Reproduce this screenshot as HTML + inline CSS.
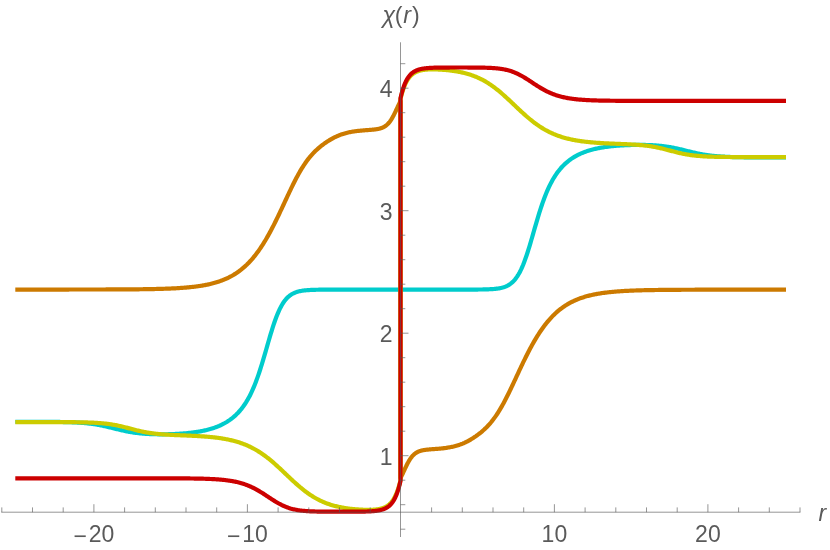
<!DOCTYPE html>
<html><head><meta charset="utf-8"><title>chi(r)</title>
<style>html,body{margin:0;padding:0;background:#fff;overflow:hidden}body{width:830px;height:550px;position:relative;font-family:"Liberation Sans",sans-serif}</style></head>
<body>
<svg width="830" height="550" viewBox="0 0 830 550" style="position:absolute;left:0;top:0;will-change:transform">
<rect width="830" height="550" fill="#ffffff"/>
<g fill="none" stroke-width="4.2" stroke-linejoin="round" stroke-linecap="butt">
<path d="M15.30,421.74 L16.19,421.74 L17.08,421.74 L17.97,421.74 L18.86,421.74 L19.75,421.74 L20.64,421.75 L21.53,421.75 L22.42,421.75 L23.31,421.75 L24.20,421.75 L25.09,421.75 L25.98,421.75 L26.87,421.75 L27.76,421.75 L28.65,421.76 L29.54,421.76 L30.43,421.76 L31.32,421.76 L32.21,421.76 L33.10,421.76 L33.99,421.77 L34.88,421.77 L35.78,421.77 L36.67,421.77 L37.56,421.78 L38.45,421.78 L39.34,421.78 L40.23,421.79 L41.12,421.79 L42.01,421.80 L42.90,421.80 L43.79,421.80 L44.68,421.81 L45.57,421.81 L46.46,421.82 L47.35,421.83 L48.24,421.83 L49.13,421.84 L50.02,421.85 L50.91,421.85 L51.80,421.86 L52.69,421.87 L53.58,421.88 L54.47,421.89 L55.36,421.90 L56.25,421.91 L57.14,421.92 L58.03,421.94 L58.92,421.95 L59.81,421.96 L60.70,421.98 L61.59,422.00 L62.48,422.01 L63.37,422.03 L64.26,422.05 L65.15,422.08 L66.04,422.10 L66.93,422.12 L67.82,422.15 L68.71,422.18 L69.60,422.21 L70.49,422.24 L71.38,422.27 L72.27,422.31 L73.16,422.34 L74.05,422.38 L74.95,422.42 L75.84,422.47 L76.73,422.52 L77.62,422.57 L78.51,422.62 L79.40,422.68 L80.29,422.74 L81.18,422.80 L82.07,422.87 L82.96,422.94 L83.85,423.01 L84.74,423.09 L85.63,423.17 L86.52,423.26 L87.41,423.35 L88.30,423.45 L89.19,423.55 L90.08,423.66 L90.97,423.77 L91.86,423.89 L92.75,424.01 L93.64,424.14 L94.53,424.27 L95.42,424.41 L96.31,424.55 L97.20,424.70 L98.09,424.86 L98.98,425.02 L99.87,425.19 L100.76,425.36 L101.65,425.54 L102.54,425.72 L103.43,425.91 L104.32,426.10 L105.21,426.30 L106.10,426.50 L106.99,426.70 L107.88,426.91 L108.77,427.12 L109.66,427.34 L110.55,427.55 L111.44,427.77 L112.33,427.99 L113.22,428.21 L114.12,428.43 L115.01,428.66 L115.90,428.88 L116.79,429.10 L117.68,429.31 L118.57,429.53 L119.46,429.74 L120.35,429.96 L121.24,430.16 L122.13,430.37 L123.02,430.57 L123.91,430.76 L124.80,430.95 L125.69,431.14 L126.58,431.32 L127.47,431.50 L128.36,431.67 L129.25,431.83 L130.14,431.99 L131.03,432.14 L131.92,432.29 L132.81,432.43 L133.70,432.56 L134.59,432.69 L135.48,432.81 L136.37,432.93 L137.26,433.04 L138.15,433.15 L139.04,433.25 L139.93,433.34 L140.82,433.43 L141.71,433.51 L142.60,433.59 L143.49,433.67 L144.38,433.74 L145.27,433.80 L146.16,433.86 L147.05,433.91 L147.94,433.97 L148.83,434.01 L149.72,434.06 L150.61,434.09 L151.50,434.13 L152.39,434.16 L153.28,434.19 L154.18,434.21 L155.07,434.24 L155.96,434.25 L156.85,434.27 L157.74,434.28 L158.63,434.29 L159.52,434.30 L160.41,434.30 L161.30,434.30 L162.19,434.30 L163.08,434.29 L163.97,434.29 L164.86,434.28 L165.75,434.26 L166.64,434.25 L167.53,434.23 L168.42,434.21 L169.31,434.19 L170.20,434.16 L171.09,434.13 L171.98,434.10 L172.87,434.07 L173.76,434.03 L174.65,433.99 L175.54,433.95 L176.43,433.91 L177.32,433.86 L178.21,433.81 L179.10,433.76 L179.99,433.70 L180.88,433.64 L181.77,433.58 L182.66,433.52 L183.55,433.45 L184.44,433.38 L185.33,433.30 L186.22,433.22 L187.11,433.14 L188.00,433.05 L188.89,432.96 L189.78,432.86 L190.67,432.76 L191.56,432.66 L192.45,432.55 L193.35,432.43 L194.24,432.31 L195.13,432.19 L196.02,432.06 L196.91,431.92 L197.80,431.78 L198.69,431.64 L199.58,431.48 L200.47,431.32 L201.36,431.15 L202.25,430.98 L203.14,430.80 L204.03,430.61 L204.92,430.41 L205.81,430.21 L206.70,429.99 L207.59,429.77 L208.48,429.53 L209.37,429.29 L210.26,429.04 L211.15,428.78 L212.04,428.50 L212.93,428.22 L213.82,427.92 L214.71,427.61 L215.60,427.29 L216.49,426.96 L217.38,426.61 L218.27,426.24 L219.16,425.87 L220.05,425.47 L220.94,425.06 L221.83,424.63 L222.72,424.19 L223.61,423.73 L224.50,423.24 L225.39,422.74 L226.28,422.22 L227.17,421.67 L228.06,421.10 L228.95,420.51 L229.84,419.89 L230.73,419.24 L231.62,418.57 L232.52,417.87 L233.41,417.14 L234.30,416.37 L235.19,415.57 L236.08,414.74 L236.97,413.87 L237.86,412.96 L238.75,412.00 L239.64,411.01 L240.53,409.97 L241.42,408.88 L242.31,407.73 L243.20,406.54 L244.09,405.28 L244.98,403.97 L245.87,402.60 L246.76,401.16 L247.65,399.65 L248.54,398.06 L249.43,396.40 L250.32,394.67 L251.21,392.85 L252.10,390.95 L252.99,388.95 L253.88,386.87 L254.77,384.70 L255.66,382.44 L256.55,380.08 L257.44,377.64 L258.33,375.10 L259.22,372.47 L260.11,369.76 L261.00,366.96 L261.89,364.10 L262.78,361.17 L263.67,358.18 L264.56,355.14 L265.45,352.07 L266.34,348.98 L267.23,345.88 L268.12,342.79 L269.01,339.72 L269.90,336.68 L270.79,333.70 L271.68,330.78 L272.58,327.94 L273.47,325.19 L274.36,322.54 L275.25,320.00 L276.14,317.58 L277.03,315.28 L277.92,313.11 L278.81,311.07 L279.70,309.16 L280.59,307.38 L281.48,305.73 L282.37,304.20 L283.26,302.79 L284.15,301.49 L285.04,300.31 L285.93,299.22 L286.82,298.24 L287.71,297.34 L288.60,296.53 L289.49,295.80 L290.38,295.14 L291.27,294.54 L292.16,294.01 L293.05,293.52 L293.94,293.09 L294.83,292.71 L295.72,292.36 L296.61,292.05 L297.50,291.78 L298.39,291.53 L299.28,291.32 L300.17,291.12 L301.06,290.95 L301.95,290.79 L302.84,290.66 L303.73,290.54 L304.62,290.43 L305.51,290.33 L306.40,290.25 L307.29,290.18 L308.18,290.11 L309.07,290.05 L309.96,290.00 L310.85,289.95 L311.75,289.91 L312.64,289.88 L313.53,289.84 L314.42,289.81 L315.31,289.79 L316.20,289.77 L317.09,289.75 L317.98,289.73 L318.87,289.72 L319.76,289.70 L320.65,289.69 L321.54,289.68 L322.43,289.67 L323.32,289.66 L324.21,289.66 L325.10,289.65 L325.99,289.64 L326.88,289.64 L327.77,289.63 L328.66,289.63 L329.55,289.63 L330.44,289.62 L331.33,289.62 L332.22,289.62 L333.11,289.62 L334.00,289.61 L334.89,289.61 L335.78,289.61 L336.67,289.61 L337.56,289.61 L338.45,289.61 L339.34,289.61 L340.23,289.61 L341.12,289.61 L342.01,289.60 L342.90,289.60 L343.79,289.60 L344.68,289.60 L345.57,289.60 L346.46,289.60 L347.35,289.60 L348.24,289.60 L349.13,289.60 L350.02,289.60 L350.92,289.60 L351.81,289.60 L352.70,289.60 L353.59,289.60 L354.48,289.60 L355.37,289.60 L356.26,289.60 L357.15,289.60 L358.04,289.60 L358.93,289.60 L359.82,289.60 L360.71,289.60 L361.60,289.60 L362.49,289.60 L363.38,289.60 L364.27,289.60 L365.16,289.60 L366.05,289.60 L366.94,289.60 L367.83,289.60 L368.72,289.60 L369.61,289.60 L370.50,289.60 L370.75,289.60 L371.00,289.60 L371.25,289.60 L371.50,289.60 L371.75,289.60 L372.00,289.60 L372.25,289.60 L372.50,289.60 L372.75,289.60 L373.00,289.60 L373.25,289.60 L373.50,289.60 L373.75,289.60 L374.00,289.60 L374.25,289.60 L374.50,289.60 L374.75,289.60 L375.00,289.60 L375.25,289.60 L375.50,289.60 L375.75,289.60 L376.00,289.60 L376.25,289.60 L376.50,289.60 L376.75,289.60 L377.00,289.60 L377.25,289.60 L377.50,289.60 L377.75,289.60 L378.00,289.60 L378.25,289.60 L378.50,289.60 L378.75,289.60 L379.00,289.60 L379.25,289.60 L379.50,289.60 L379.75,289.60 L380.00,289.60 L380.25,289.60 L380.50,289.60 L380.75,289.60 L381.00,289.60 L381.25,289.60 L381.50,289.60 L381.75,289.60 L382.00,289.60 L382.25,289.60 L382.50,289.60 L382.75,289.60 L383.00,289.60 L383.25,289.60 L383.50,289.60 L383.75,289.60 L384.00,289.60 L384.25,289.60 L384.50,289.60 L384.75,289.60 L385.00,289.60 L385.25,289.60 L385.50,289.60 L385.75,289.60 L386.00,289.60 L386.25,289.60 L386.50,289.60 L386.75,289.60 L387.00,289.60 L387.25,289.60 L387.50,289.60 L387.75,289.60 L388.00,289.60 L388.25,289.60 L388.50,289.60 L388.75,289.60 L389.00,289.60 L389.25,289.60 L389.50,289.60 L389.75,289.60 L390.00,289.60 L390.25,289.60 L390.50,289.60 L390.75,289.60 L391.00,289.60 L391.25,289.60 L391.50,289.60 L391.75,289.60 L392.00,289.60 L392.25,289.60 L392.50,289.60 L392.75,289.60 L393.00,289.60 L393.25,289.60 L393.50,289.60 L393.75,289.60 L394.00,289.60 L394.25,289.60 L394.50,289.60 L394.75,289.60 L395.00,289.60 L395.25,289.60 L395.50,289.60 L395.75,289.60 L396.00,289.60 L396.25,289.60 L396.50,289.60 L396.75,289.60 L397.00,289.60 L397.25,289.60 L397.50,289.60 L397.75,289.60 L398.00,289.60 L398.25,289.60 L398.50,289.60 L398.75,289.60 L399.00,289.60 L399.25,289.60 L399.50,289.60 L399.75,289.60 L400.00,289.60 L400.25,289.60 L400.50,289.60 L400.50,289.60 L400.75,289.60 L401.00,289.60 L401.25,289.60 L401.50,289.60 L401.75,289.60 L402.00,289.60 L402.25,289.60 L402.50,289.60 L402.75,289.60 L403.00,289.60 L403.25,289.60 L403.50,289.60 L403.75,289.60 L404.00,289.60 L404.25,289.60 L404.50,289.60 L404.75,289.60 L405.00,289.60 L405.25,289.60 L405.50,289.60 L405.75,289.60 L406.00,289.60 L406.25,289.60 L406.50,289.60 L406.75,289.60 L407.00,289.60 L407.25,289.60 L407.50,289.60 L407.75,289.60 L408.00,289.60 L408.25,289.60 L408.50,289.60 L408.75,289.60 L409.00,289.60 L409.25,289.60 L409.50,289.60 L409.75,289.60 L410.00,289.60 L410.25,289.60 L410.50,289.60 L410.75,289.60 L411.00,289.60 L411.25,289.60 L411.50,289.60 L411.75,289.60 L412.00,289.60 L412.25,289.60 L412.50,289.60 L412.75,289.60 L413.00,289.60 L413.25,289.60 L413.50,289.60 L413.75,289.60 L414.00,289.60 L414.25,289.60 L414.50,289.60 L414.75,289.60 L415.00,289.60 L415.25,289.60 L415.50,289.60 L415.75,289.60 L416.00,289.60 L416.25,289.60 L416.50,289.60 L416.75,289.60 L417.00,289.60 L417.25,289.60 L417.50,289.60 L417.75,289.60 L418.00,289.60 L418.25,289.60 L418.50,289.60 L418.75,289.60 L419.00,289.60 L419.25,289.60 L419.50,289.60 L419.75,289.60 L420.00,289.60 L420.25,289.60 L420.50,289.60 L420.75,289.60 L421.00,289.60 L421.25,289.60 L421.50,289.60 L421.75,289.60 L422.00,289.60 L422.25,289.60 L422.50,289.60 L422.75,289.60 L423.00,289.60 L423.25,289.60 L423.50,289.60 L423.75,289.60 L424.00,289.60 L424.25,289.60 L424.50,289.60 L424.75,289.60 L425.00,289.60 L425.25,289.60 L425.50,289.60 L425.75,289.60 L426.00,289.60 L426.25,289.60 L426.50,289.60 L426.75,289.60 L427.00,289.60 L427.25,289.60 L427.50,289.60 L427.75,289.60 L428.00,289.60 L428.25,289.60 L428.50,289.60 L428.75,289.60 L429.00,289.60 L429.25,289.60 L429.50,289.60 L429.75,289.60 L430.00,289.60 L430.25,289.60 L430.50,289.60 L431.39,289.60 L432.28,289.60 L433.17,289.60 L434.06,289.60 L434.95,289.60 L435.85,289.60 L436.74,289.60 L437.63,289.60 L438.52,289.60 L439.41,289.60 L440.30,289.60 L441.19,289.60 L442.08,289.60 L442.97,289.60 L443.86,289.60 L444.76,289.60 L445.65,289.60 L446.54,289.60 L447.43,289.60 L448.32,289.60 L449.21,289.60 L450.10,289.60 L450.99,289.60 L451.88,289.60 L452.77,289.60 L453.67,289.60 L454.56,289.60 L455.45,289.60 L456.34,289.60 L457.23,289.60 L458.12,289.60 L459.01,289.60 L459.90,289.59 L460.79,289.59 L461.68,289.59 L462.58,289.59 L463.47,289.59 L464.36,289.59 L465.25,289.59 L466.14,289.59 L467.03,289.58 L467.92,289.58 L468.81,289.58 L469.70,289.58 L470.59,289.58 L471.48,289.57 L472.38,289.57 L473.27,289.56 L474.16,289.56 L475.05,289.55 L475.94,289.55 L476.83,289.54 L477.72,289.53 L478.61,289.52 L479.50,289.51 L480.39,289.50 L481.29,289.49 L482.18,289.48 L483.07,289.46 L483.96,289.44 L484.85,289.42 L485.74,289.40 L486.63,289.37 L487.52,289.34 L488.41,289.30 L489.30,289.26 L490.20,289.22 L491.09,289.17 L491.98,289.11 L492.87,289.05 L493.76,288.98 L494.65,288.90 L495.54,288.81 L496.43,288.70 L497.32,288.59 L498.21,288.46 L499.11,288.31 L500.00,288.15 L500.89,287.96 L501.78,287.75 L502.67,287.51 L503.56,287.25 L504.45,286.96 L505.34,286.62 L506.23,286.25 L507.12,285.84 L508.02,285.38 L508.91,284.86 L509.80,284.29 L510.69,283.65 L511.58,282.94 L512.47,282.16 L513.36,281.29 L514.25,280.34 L515.14,279.29 L516.03,278.14 L516.92,276.89 L517.82,275.52 L518.71,274.03 L519.60,272.42 L520.49,270.68 L521.38,268.82 L522.27,266.82 L523.16,264.70 L524.05,262.44 L524.94,260.06 L525.83,257.56 L526.73,254.95 L527.62,252.23 L528.51,249.41 L529.40,246.52 L530.29,243.55 L531.18,240.53 L532.07,237.47 L532.96,234.38 L533.85,231.27 L534.74,228.18 L535.64,225.09 L536.53,222.04 L537.42,219.04 L538.31,216.08 L539.20,213.19 L540.09,210.37 L540.98,207.63 L541.87,204.97 L542.76,202.40 L543.65,199.92 L544.55,197.53 L545.44,195.23 L546.33,193.03 L547.22,190.92 L548.11,188.90 L549.00,186.96 L549.89,185.11 L550.78,183.35 L551.67,181.66 L552.56,180.06 L553.45,178.52 L554.35,177.06 L555.24,175.66 L556.13,174.33 L557.02,173.06 L557.91,171.84 L558.80,170.68 L559.69,169.57 L560.58,168.51 L561.47,167.50 L562.36,166.54 L563.26,165.61 L564.15,164.73 L565.04,163.88 L565.93,163.07 L566.82,162.30 L567.71,161.55 L568.60,160.84 L569.49,160.16 L570.38,159.50 L571.27,158.88 L572.17,158.28 L573.06,157.70 L573.95,157.15 L574.84,156.61 L575.73,156.11 L576.62,155.62 L577.51,155.15 L578.40,154.70 L579.29,154.26 L580.18,153.85 L581.08,153.45 L581.97,153.07 L582.86,152.70 L583.75,152.34 L584.64,152.00 L585.53,151.68 L586.42,151.37 L587.31,151.07 L588.20,150.78 L589.09,150.50 L589.98,150.23 L590.88,149.98 L591.77,149.73 L592.66,149.50 L593.55,149.27 L594.44,149.05 L595.33,148.85 L596.22,148.65 L597.11,148.45 L598.00,148.27 L598.89,148.09 L599.79,147.92 L600.68,147.76 L601.57,147.61 L602.46,147.46 L603.35,147.31 L604.24,147.18 L605.13,147.04 L606.02,146.92 L606.91,146.80 L607.80,146.68 L608.70,146.57 L609.59,146.47 L610.48,146.36 L611.37,146.27 L612.26,146.17 L613.15,146.09 L614.04,146.00 L614.93,145.92 L615.82,145.84 L616.71,145.77 L617.61,145.70 L618.50,145.63 L619.39,145.57 L620.28,145.51 L621.17,145.45 L622.06,145.40 L622.95,145.35 L623.84,145.30 L624.73,145.26 L625.62,145.22 L626.52,145.18 L627.41,145.14 L628.30,145.11 L629.19,145.07 L630.08,145.05 L630.97,145.02 L631.86,145.00 L632.75,144.97 L633.64,144.96 L634.53,144.94 L635.42,144.93 L636.32,144.92 L637.21,144.91 L638.10,144.90 L638.99,144.90 L639.88,144.90 L640.77,144.90 L641.66,144.91 L642.55,144.92 L643.44,144.93 L644.33,144.94 L645.23,144.96 L646.12,144.98 L647.01,145.00 L647.90,145.03 L648.79,145.06 L649.68,145.10 L650.57,145.14 L651.46,145.18 L652.35,145.22 L653.24,145.27 L654.14,145.33 L655.03,145.39 L655.92,145.45 L656.81,145.52 L657.70,145.59 L658.59,145.67 L659.48,145.75 L660.37,145.84 L661.26,145.93 L662.15,146.03 L663.05,146.13 L663.94,146.24 L664.83,146.36 L665.72,146.48 L666.61,146.61 L667.50,146.74 L668.39,146.88 L669.28,147.03 L670.17,147.18 L671.06,147.34 L671.95,147.50 L672.85,147.67 L673.74,147.84 L674.63,148.02 L675.52,148.21 L676.41,148.40 L677.30,148.59 L678.19,148.79 L679.08,149.00 L679.97,149.20 L680.86,149.41 L681.76,149.63 L682.65,149.84 L683.54,150.06 L684.43,150.28 L685.32,150.50 L686.21,150.72 L687.10,150.94 L687.99,151.17 L688.88,151.39 L689.77,151.60 L690.67,151.82 L691.56,152.04 L692.45,152.25 L693.34,152.46 L694.23,152.66 L695.12,152.87 L696.01,153.06 L696.90,153.26 L697.79,153.45 L698.68,153.63 L699.58,153.81 L700.47,153.98 L701.36,154.15 L702.25,154.31 L703.14,154.47 L704.03,154.62 L704.92,154.77 L705.81,154.91 L706.70,155.04 L707.59,155.17 L708.48,155.29 L709.38,155.41 L710.27,155.52 L711.16,155.63 L712.05,155.73 L712.94,155.83 L713.83,155.92 L714.72,156.01 L715.61,156.10 L716.50,156.18 L717.39,156.25 L718.29,156.32 L719.18,156.39 L720.07,156.45 L720.96,156.51 L721.85,156.57 L722.74,156.62 L723.63,156.68 L724.52,156.72 L725.41,156.77 L726.30,156.81 L727.20,156.85 L728.09,156.89 L728.98,156.92 L729.87,156.96 L730.76,156.99 L731.65,157.02 L732.54,157.05 L733.43,157.07 L734.32,157.10 L735.21,157.12 L736.11,157.14 L737.00,157.16 L737.89,157.18 L738.78,157.20 L739.67,157.22 L740.56,157.23 L741.45,157.25 L742.34,157.26 L743.23,157.27 L744.12,157.29 L745.02,157.30 L745.91,157.31 L746.80,157.32 L747.69,157.33 L748.58,157.34 L749.47,157.35 L750.36,157.35 L751.25,157.36 L752.14,157.37 L753.03,157.37 L753.92,157.38 L754.82,157.39 L755.71,157.39 L756.60,157.40 L757.49,157.40 L758.38,157.40 L759.27,157.41 L760.16,157.41 L761.05,157.42 L761.94,157.42 L762.83,157.42 L763.73,157.43 L764.62,157.43 L765.51,157.43 L766.40,157.43 L767.29,157.43 L768.18,157.44 L769.07,157.44 L769.96,157.44 L770.85,157.44 L771.74,157.44 L772.64,157.45 L773.53,157.45 L774.42,157.45 L775.31,157.45 L776.20,157.45 L777.09,157.45 L777.98,157.45 L778.87,157.45 L779.76,157.45 L780.65,157.46 L781.55,157.46 L782.44,157.46 L783.33,157.46 L784.22,157.46 L785.11,157.46 L786.00,157.46" stroke="#00cccc"/>
<path d="M15.30,289.54 L16.19,289.54 L17.08,289.54 L17.97,289.54 L18.86,289.54 L19.75,289.54 L20.64,289.54 L21.53,289.54 L22.42,289.54 L23.31,289.54 L24.20,289.54 L25.09,289.54 L25.98,289.54 L26.87,289.54 L27.76,289.54 L28.65,289.54 L29.54,289.54 L30.43,289.54 L31.32,289.54 L32.21,289.54 L33.10,289.54 L33.99,289.54 L34.88,289.53 L35.78,289.53 L36.67,289.53 L37.56,289.53 L38.45,289.53 L39.34,289.53 L40.23,289.53 L41.12,289.53 L42.01,289.53 L42.90,289.53 L43.79,289.53 L44.68,289.53 L45.57,289.53 L46.46,289.53 L47.35,289.53 L48.24,289.53 L49.13,289.53 L50.02,289.53 L50.91,289.53 L51.80,289.53 L52.69,289.53 L53.58,289.53 L54.47,289.53 L55.36,289.53 L56.25,289.53 L57.14,289.53 L58.03,289.53 L58.92,289.53 L59.81,289.53 L60.70,289.53 L61.59,289.53 L62.48,289.53 L63.37,289.53 L64.26,289.53 L65.15,289.53 L66.04,289.53 L66.93,289.53 L67.82,289.53 L68.71,289.53 L69.60,289.52 L70.49,289.52 L71.38,289.52 L72.27,289.52 L73.16,289.52 L74.05,289.52 L74.95,289.52 L75.84,289.52 L76.73,289.52 L77.62,289.52 L78.51,289.52 L79.40,289.52 L80.29,289.52 L81.18,289.52 L82.07,289.52 L82.96,289.51 L83.85,289.51 L84.74,289.51 L85.63,289.51 L86.52,289.51 L87.41,289.51 L88.30,289.51 L89.19,289.51 L90.08,289.51 L90.97,289.50 L91.86,289.50 L92.75,289.50 L93.64,289.50 L94.53,289.50 L95.42,289.50 L96.31,289.50 L97.20,289.49 L98.09,289.49 L98.98,289.49 L99.87,289.49 L100.76,289.49 L101.65,289.49 L102.54,289.48 L103.43,289.48 L104.32,289.48 L105.21,289.48 L106.10,289.47 L106.99,289.47 L107.88,289.47 L108.77,289.47 L109.66,289.46 L110.55,289.46 L111.44,289.46 L112.33,289.46 L113.22,289.45 L114.12,289.45 L115.01,289.45 L115.90,289.44 L116.79,289.44 L117.68,289.43 L118.57,289.43 L119.46,289.43 L120.35,289.42 L121.24,289.42 L122.13,289.41 L123.02,289.41 L123.91,289.40 L124.80,289.40 L125.69,289.39 L126.58,289.38 L127.47,289.38 L128.36,289.37 L129.25,289.37 L130.14,289.36 L131.03,289.35 L131.92,289.35 L132.81,289.34 L133.70,289.33 L134.59,289.32 L135.48,289.31 L136.37,289.30 L137.26,289.30 L138.15,289.29 L139.04,289.28 L139.93,289.27 L140.82,289.25 L141.71,289.24 L142.60,289.23 L143.49,289.22 L144.38,289.21 L145.27,289.20 L146.16,289.18 L147.05,289.17 L147.94,289.15 L148.83,289.14 L149.72,289.12 L150.61,289.11 L151.50,289.09 L152.39,289.07 L153.28,289.05 L154.18,289.03 L155.07,289.01 L155.96,288.99 L156.85,288.97 L157.74,288.95 L158.63,288.93 L159.52,288.90 L160.41,288.88 L161.30,288.85 L162.19,288.83 L163.08,288.80 L163.97,288.77 L164.86,288.74 L165.75,288.71 L166.64,288.68 L167.53,288.64 L168.42,288.61 L169.31,288.57 L170.20,288.53 L171.09,288.50 L171.98,288.45 L172.87,288.41 L173.76,288.37 L174.65,288.32 L175.54,288.28 L176.43,288.23 L177.32,288.17 L178.21,288.12 L179.10,288.07 L179.99,288.01 L180.88,287.95 L181.77,287.89 L182.66,287.82 L183.55,287.76 L184.44,287.69 L185.33,287.62 L186.22,287.54 L187.11,287.46 L188.00,287.38 L188.89,287.30 L189.78,287.21 L190.67,287.12 L191.56,287.03 L192.45,286.93 L193.35,286.83 L194.24,286.72 L195.13,286.61 L196.02,286.50 L196.91,286.38 L197.80,286.26 L198.69,286.13 L199.58,286.00 L200.47,285.87 L201.36,285.72 L202.25,285.58 L203.14,285.42 L204.03,285.27 L204.92,285.10 L205.81,284.93 L206.70,284.75 L207.59,284.57 L208.48,284.38 L209.37,284.18 L210.26,283.97 L211.15,283.76 L212.04,283.54 L212.93,283.31 L213.82,283.07 L214.71,282.83 L215.60,282.57 L216.49,282.30 L217.38,282.03 L218.27,281.74 L219.16,281.45 L220.05,281.14 L220.94,280.82 L221.83,280.49 L222.72,280.15 L223.61,279.80 L224.50,279.43 L225.39,279.05 L226.28,278.65 L227.17,278.25 L228.06,277.82 L228.95,277.39 L229.84,276.93 L230.73,276.47 L231.62,275.98 L232.52,275.48 L233.41,274.96 L234.30,274.42 L235.19,273.86 L236.08,273.29 L236.97,272.69 L237.86,272.08 L238.75,271.44 L239.64,270.79 L240.53,270.11 L241.42,269.41 L242.31,268.69 L243.20,267.94 L244.09,267.17 L244.98,266.37 L245.87,265.55 L246.76,264.71 L247.65,263.83 L248.54,262.93 L249.43,262.01 L250.32,261.05 L251.21,260.07 L252.10,259.06 L252.99,258.02 L253.88,256.95 L254.77,255.85 L255.66,254.72 L256.55,253.56 L257.44,252.36 L258.33,251.14 L259.22,249.89 L260.11,248.60 L261.00,247.28 L261.89,245.93 L262.78,244.55 L263.67,243.14 L264.56,241.69 L265.45,240.21 L266.34,238.70 L267.23,237.17 L268.12,235.60 L269.01,234.00 L269.90,232.37 L270.79,230.71 L271.68,229.03 L272.58,227.32 L273.47,225.59 L274.36,223.83 L275.25,222.04 L276.14,220.24 L277.03,218.42 L277.92,216.58 L278.81,214.72 L279.70,212.84 L280.59,210.96 L281.48,209.06 L282.37,207.16 L283.26,205.25 L284.15,203.33 L285.04,201.42 L285.93,199.50 L286.82,197.59 L287.71,195.69 L288.60,193.79 L289.49,191.91 L290.38,190.04 L291.27,188.19 L292.16,186.36 L293.05,184.55 L293.94,182.77 L294.83,181.01 L295.72,179.28 L296.61,177.59 L297.50,175.93 L298.39,174.30 L299.28,172.72 L300.17,171.17 L301.06,169.66 L301.95,168.19 L302.84,166.77 L303.73,165.39 L304.62,164.05 L305.51,162.75 L306.40,161.49 L307.29,160.28 L308.18,159.11 L309.07,157.98 L309.96,156.89 L310.85,155.84 L311.75,154.83 L312.64,153.85 L313.53,152.90 L314.42,151.99 L315.31,151.11 L316.20,150.26 L317.09,149.43 L317.98,148.63 L318.87,147.86 L319.76,147.11 L320.65,146.38 L321.54,145.67 L322.43,144.99 L323.32,144.32 L324.21,143.67 L325.10,143.04 L325.99,142.42 L326.88,141.82 L327.77,141.24 L328.66,140.68 L329.55,140.13 L330.44,139.60 L331.33,139.09 L332.22,138.59 L333.11,138.11 L334.00,137.65 L334.89,137.21 L335.78,136.78 L336.67,136.37 L337.56,135.98 L338.45,135.60 L339.34,135.24 L340.23,134.90 L341.12,134.58 L342.01,134.27 L342.90,133.97 L343.79,133.70 L344.68,133.43 L345.57,133.18 L346.46,132.95 L347.35,132.73 L348.24,132.52 L349.13,132.32 L350.02,132.14 L350.92,131.96 L351.81,131.80 L352.70,131.65 L353.59,131.50 L354.48,131.37 L355.37,131.24 L356.26,131.12 L357.15,131.01 L358.04,130.91 L358.93,130.81 L359.82,130.72 L360.71,130.63 L361.60,130.55 L362.49,130.47 L363.38,130.40 L364.27,130.33 L365.16,130.26 L366.05,130.19 L366.94,130.12 L367.83,130.06 L368.72,129.99 L369.61,129.93 L370.50,129.86 L370.75,129.84 L371.00,129.82 L371.25,129.80 L371.50,129.78 L371.75,129.75 L372.00,129.73 L372.25,129.71 L372.50,129.69 L372.75,129.66 L373.00,129.64 L373.25,129.61 L373.50,129.59 L373.75,129.56 L374.00,129.54 L374.25,129.51 L374.50,129.48 L374.75,129.45 L375.00,129.42 L375.25,129.39 L375.50,129.36 L375.75,129.32 L376.00,129.29 L376.25,129.25 L376.50,129.21 L376.75,129.17 L377.00,129.13 L377.25,129.09 L377.50,129.05 L377.75,129.00 L378.00,128.95 L378.25,128.90 L378.50,128.85 L378.75,128.80 L379.00,128.74 L379.25,128.68 L379.50,128.62 L379.75,128.55 L380.00,128.49 L380.25,128.42 L380.50,128.34 L380.75,128.27 L381.00,128.19 L381.25,128.10 L381.50,128.02 L381.75,127.93 L382.00,127.83 L382.25,127.73 L382.50,127.63 L382.75,127.52 L383.00,127.41 L383.25,127.29 L383.50,127.16 L383.75,127.04 L384.00,126.90 L384.25,126.76 L384.50,126.61 L384.75,126.46 L385.00,126.30 L385.25,126.14 L385.50,125.96 L385.75,125.78 L386.00,125.60 L386.25,125.40 L386.50,125.20 L386.75,124.99 L387.00,124.77 L387.25,124.54 L387.50,124.30 L387.75,124.06 L388.00,123.80 L388.25,123.54 L388.50,123.26 L388.75,122.98 L389.00,122.68 L389.25,122.38 L389.50,122.07 L389.75,121.74 L390.00,121.41 L390.25,121.06 L390.50,120.70 L390.75,120.34 L391.00,119.96 L391.25,119.57 L391.50,119.18 L391.75,118.77 L392.00,118.35 L392.25,117.92 L392.50,117.48 L392.75,117.03 L393.00,116.58 L393.25,116.11 L393.50,115.64 L393.75,115.15 L394.00,114.66 L394.25,114.16 L394.50,113.66 L394.75,113.15 L395.00,112.63 L395.25,112.11 L395.50,111.58 L395.75,111.05 L396.00,110.52 L396.25,109.98 L396.50,109.44 L396.75,108.90 L397.00,108.36 L397.25,107.82 L397.50,107.28 L397.75,106.74 L398.00,106.20 L398.25,105.67 L398.50,105.14 L398.75,104.61 L399.00,104.09 L399.25,103.57 L399.50,103.06 L399.75,102.56 L400.00,102.06 L400.25,101.57 L400.50,101.09 L400.50,478.11 L400.75,477.63 L401.00,477.14 L401.25,476.64 L401.50,476.14 L401.75,475.63 L402.00,475.11 L402.25,474.59 L402.50,474.06 L402.75,473.53 L403.00,473.00 L403.25,472.46 L403.50,471.92 L403.75,471.38 L404.00,470.84 L404.25,470.30 L404.50,469.76 L404.75,469.22 L405.00,468.68 L405.25,468.15 L405.50,467.62 L405.75,467.09 L406.00,466.57 L406.25,466.05 L406.50,465.54 L406.75,465.04 L407.00,464.54 L407.25,464.05 L407.50,463.56 L407.75,463.09 L408.00,462.62 L408.25,462.17 L408.50,461.72 L408.75,461.28 L409.00,460.85 L409.25,460.43 L409.50,460.02 L409.75,459.63 L410.00,459.24 L410.25,458.86 L410.50,458.50 L410.75,458.14 L411.00,457.79 L411.25,457.46 L411.50,457.13 L411.75,456.82 L412.00,456.52 L412.25,456.22 L412.50,455.94 L412.75,455.66 L413.00,455.40 L413.25,455.14 L413.50,454.90 L413.75,454.66 L414.00,454.43 L414.25,454.21 L414.50,454.00 L414.75,453.80 L415.00,453.60 L415.25,453.42 L415.50,453.24 L415.75,453.06 L416.00,452.90 L416.25,452.74 L416.50,452.59 L416.75,452.44 L417.00,452.30 L417.25,452.16 L417.50,452.04 L417.75,451.91 L418.00,451.79 L418.25,451.68 L418.50,451.57 L418.75,451.47 L419.00,451.37 L419.25,451.27 L419.50,451.18 L419.75,451.10 L420.00,451.01 L420.25,450.93 L420.50,450.86 L420.75,450.78 L421.00,450.71 L421.25,450.65 L421.50,450.58 L421.75,450.52 L422.00,450.46 L422.25,450.40 L422.50,450.35 L422.75,450.30 L423.00,450.25 L423.25,450.20 L423.50,450.15 L423.75,450.11 L424.00,450.07 L424.25,450.03 L424.50,449.99 L424.75,449.95 L425.00,449.91 L425.25,449.88 L425.50,449.84 L425.75,449.81 L426.00,449.78 L426.25,449.75 L426.50,449.72 L426.75,449.69 L427.00,449.66 L427.25,449.64 L427.50,449.61 L427.75,449.59 L428.00,449.56 L428.25,449.54 L428.50,449.51 L428.75,449.49 L429.00,449.47 L429.25,449.45 L429.50,449.42 L429.75,449.40 L430.00,449.38 L430.25,449.36 L430.50,449.34 L431.39,449.27 L432.28,449.21 L433.17,449.14 L434.06,449.08 L434.95,449.01 L435.85,448.94 L436.74,448.87 L437.63,448.80 L438.52,448.73 L439.41,448.65 L440.30,448.57 L441.19,448.48 L442.08,448.39 L442.97,448.29 L443.86,448.19 L444.76,448.07 L445.65,447.96 L446.54,447.83 L447.43,447.69 L448.32,447.55 L449.21,447.40 L450.10,447.23 L450.99,447.06 L451.88,446.87 L452.77,446.68 L453.67,446.47 L454.56,446.25 L455.45,446.01 L456.34,445.76 L457.23,445.50 L458.12,445.22 L459.01,444.92 L459.90,444.61 L460.79,444.29 L461.68,443.94 L462.58,443.59 L463.47,443.21 L464.36,442.82 L465.25,442.40 L466.14,441.98 L467.03,441.53 L467.92,441.07 L468.81,440.59 L469.70,440.09 L470.59,439.58 L471.48,439.05 L472.38,438.50 L473.27,437.93 L474.16,437.35 L475.05,436.75 L475.94,436.14 L476.83,435.50 L477.72,434.85 L478.61,434.18 L479.50,433.49 L480.39,432.79 L481.29,432.06 L482.18,431.30 L483.07,430.53 L483.96,429.73 L484.85,428.90 L485.74,428.05 L486.63,427.16 L487.52,426.25 L488.41,425.30 L489.30,424.32 L490.20,423.30 L491.09,422.25 L491.98,421.15 L492.87,420.02 L493.76,418.85 L494.65,417.63 L495.54,416.37 L496.43,415.07 L497.32,413.73 L498.21,412.34 L499.11,410.91 L500.00,409.44 L500.89,407.93 L501.78,406.38 L502.67,404.79 L503.56,403.16 L504.45,401.49 L505.34,399.79 L506.23,398.06 L507.12,396.30 L508.02,394.52 L508.91,392.71 L509.80,390.87 L510.69,389.02 L511.58,387.15 L512.47,385.26 L513.36,383.36 L514.25,381.46 L515.14,379.55 L516.03,377.63 L516.92,375.71 L517.82,373.80 L518.71,371.88 L519.60,369.98 L520.49,368.08 L521.38,366.19 L522.27,364.32 L523.16,362.46 L524.05,360.62 L524.94,358.80 L525.83,356.99 L526.73,355.21 L527.62,353.45 L528.51,351.72 L529.40,350.01 L530.29,348.33 L531.18,346.67 L532.07,345.05 L532.96,343.45 L533.85,341.88 L534.74,340.34 L535.64,338.84 L536.53,337.36 L537.42,335.92 L538.31,334.51 L539.20,333.13 L540.09,331.78 L540.98,330.46 L541.87,329.18 L542.76,327.93 L543.65,326.71 L544.55,325.52 L545.44,324.36 L546.33,323.23 L547.22,322.13 L548.11,321.06 L549.00,320.03 L549.89,319.02 L550.78,318.04 L551.67,317.08 L552.56,316.16 L553.45,315.26 L554.35,314.39 L555.24,313.55 L556.13,312.73 L557.02,311.94 L557.91,311.17 L558.80,310.42 L559.69,309.70 L560.58,309.01 L561.47,308.33 L562.36,307.67 L563.26,307.04 L564.15,306.43 L565.04,305.84 L565.93,305.26 L566.82,304.71 L567.71,304.17 L568.60,303.66 L569.49,303.15 L570.38,302.67 L571.27,302.20 L572.17,301.75 L573.06,301.32 L573.95,300.90 L574.84,300.49 L575.73,300.10 L576.62,299.72 L577.51,299.35 L578.40,299.00 L579.29,298.66 L580.18,298.33 L581.08,298.02 L581.97,297.71 L582.86,297.42 L583.75,297.13 L584.64,296.86 L585.53,296.59 L586.42,296.34 L587.31,296.09 L588.20,295.86 L589.09,295.63 L589.98,295.41 L590.88,295.19 L591.77,294.99 L592.66,294.79 L593.55,294.60 L594.44,294.42 L595.33,294.24 L596.22,294.07 L597.11,293.91 L598.00,293.75 L598.89,293.60 L599.79,293.45 L600.68,293.31 L601.57,293.18 L602.46,293.04 L603.35,292.92 L604.24,292.80 L605.13,292.68 L606.02,292.57 L606.91,292.46 L607.80,292.35 L608.70,292.25 L609.59,292.16 L610.48,292.06 L611.37,291.97 L612.26,291.89 L613.15,291.80 L614.04,291.72 L614.93,291.65 L615.82,291.57 L616.71,291.50 L617.61,291.43 L618.50,291.37 L619.39,291.30 L620.28,291.24 L621.17,291.18 L622.06,291.12 L622.95,291.07 L623.84,291.02 L624.73,290.96 L625.62,290.92 L626.52,290.87 L627.41,290.82 L628.30,290.78 L629.19,290.74 L630.08,290.70 L630.97,290.66 L631.86,290.62 L632.75,290.58 L633.64,290.55 L634.53,290.52 L635.42,290.48 L636.32,290.45 L637.21,290.42 L638.10,290.40 L638.99,290.37 L639.88,290.34 L640.77,290.32 L641.66,290.29 L642.55,290.27 L643.44,290.24 L644.33,290.22 L645.23,290.20 L646.12,290.18 L647.01,290.16 L647.90,290.14 L648.79,290.12 L649.68,290.11 L650.57,290.09 L651.46,290.07 L652.35,290.06 L653.24,290.04 L654.14,290.03 L655.03,290.02 L655.92,290.00 L656.81,289.99 L657.70,289.98 L658.59,289.97 L659.48,289.95 L660.37,289.94 L661.26,289.93 L662.15,289.92 L663.05,289.91 L663.94,289.90 L664.83,289.89 L665.72,289.88 L666.61,289.88 L667.50,289.87 L668.39,289.86 L669.28,289.85 L670.17,289.85 L671.06,289.84 L671.95,289.83 L672.85,289.83 L673.74,289.82 L674.63,289.81 L675.52,289.81 L676.41,289.80 L677.30,289.80 L678.19,289.79 L679.08,289.79 L679.97,289.78 L680.86,289.78 L681.76,289.77 L682.65,289.77 L683.54,289.77 L684.43,289.76 L685.32,289.76 L686.21,289.75 L687.10,289.75 L687.99,289.75 L688.88,289.74 L689.77,289.74 L690.67,289.74 L691.56,289.74 L692.45,289.73 L693.34,289.73 L694.23,289.73 L695.12,289.72 L696.01,289.72 L696.90,289.72 L697.79,289.72 L698.68,289.72 L699.58,289.71 L700.47,289.71 L701.36,289.71 L702.25,289.71 L703.14,289.71 L704.03,289.70 L704.92,289.70 L705.81,289.70 L706.70,289.70 L707.59,289.70 L708.48,289.70 L709.38,289.70 L710.27,289.69 L711.16,289.69 L712.05,289.69 L712.94,289.69 L713.83,289.69 L714.72,289.69 L715.61,289.69 L716.50,289.69 L717.39,289.69 L718.29,289.69 L719.18,289.68 L720.07,289.68 L720.96,289.68 L721.85,289.68 L722.74,289.68 L723.63,289.68 L724.52,289.68 L725.41,289.68 L726.30,289.68 L727.20,289.68 L728.09,289.68 L728.98,289.68 L729.87,289.68 L730.76,289.68 L731.65,289.68 L732.54,289.67 L733.43,289.67 L734.32,289.67 L735.21,289.67 L736.11,289.67 L737.00,289.67 L737.89,289.67 L738.78,289.67 L739.67,289.67 L740.56,289.67 L741.45,289.67 L742.34,289.67 L743.23,289.67 L744.12,289.67 L745.02,289.67 L745.91,289.67 L746.80,289.67 L747.69,289.67 L748.58,289.67 L749.47,289.67 L750.36,289.67 L751.25,289.67 L752.14,289.67 L753.03,289.67 L753.92,289.67 L754.82,289.67 L755.71,289.67 L756.60,289.67 L757.49,289.67 L758.38,289.67 L759.27,289.67 L760.16,289.67 L761.05,289.67 L761.94,289.67 L762.83,289.67 L763.73,289.67 L764.62,289.67 L765.51,289.67 L766.40,289.67 L767.29,289.66 L768.18,289.66 L769.07,289.66 L769.96,289.66 L770.85,289.66 L771.74,289.66 L772.64,289.66 L773.53,289.66 L774.42,289.66 L775.31,289.66 L776.20,289.66 L777.09,289.66 L777.98,289.66 L778.87,289.66 L779.76,289.66 L780.65,289.66 L781.55,289.66 L782.44,289.66 L783.33,289.66 L784.22,289.66 L785.11,289.66 L786.00,289.66" stroke="#cc7a00"/>
<path d="M15.30,422.08 L16.19,422.08 L17.08,422.08 L17.97,422.08 L18.86,422.08 L19.75,422.08 L20.64,422.08 L21.53,422.08 L22.42,422.08 L23.31,422.08 L24.20,422.08 L25.09,422.08 L25.98,422.08 L26.87,422.08 L27.76,422.08 L28.65,422.08 L29.54,422.08 L30.43,422.08 L31.32,422.08 L32.21,422.08 L33.10,422.08 L33.99,422.08 L34.88,422.08 L35.78,422.08 L36.67,422.08 L37.56,422.08 L38.45,422.08 L39.34,422.09 L40.23,422.09 L41.12,422.09 L42.01,422.09 L42.90,422.09 L43.79,422.09 L44.68,422.09 L45.57,422.09 L46.46,422.09 L47.35,422.09 L48.24,422.09 L49.13,422.10 L50.02,422.10 L50.91,422.10 L51.80,422.10 L52.69,422.10 L53.58,422.10 L54.47,422.11 L55.36,422.11 L56.25,422.11 L57.14,422.11 L58.03,422.11 L58.92,422.12 L59.81,422.12 L60.70,422.12 L61.59,422.13 L62.48,422.13 L63.37,422.13 L64.26,422.14 L65.15,422.14 L66.04,422.15 L66.93,422.15 L67.82,422.16 L68.71,422.17 L69.60,422.17 L70.49,422.18 L71.38,422.19 L72.27,422.20 L73.16,422.20 L74.05,422.21 L74.95,422.22 L75.84,422.23 L76.73,422.25 L77.62,422.26 L78.51,422.27 L79.40,422.29 L80.29,422.30 L81.18,422.32 L82.07,422.34 L82.96,422.35 L83.85,422.38 L84.74,422.40 L85.63,422.42 L86.52,422.45 L87.41,422.47 L88.30,422.50 L89.19,422.53 L90.08,422.56 L90.97,422.60 L91.86,422.64 L92.75,422.68 L93.64,422.72 L94.53,422.76 L95.42,422.81 L96.31,422.86 L97.20,422.92 L98.09,422.98 L98.98,423.04 L99.87,423.11 L100.76,423.18 L101.65,423.25 L102.54,423.33 L103.43,423.41 L104.32,423.50 L105.21,423.60 L106.10,423.70 L106.99,423.80 L107.88,423.91 L108.77,424.03 L109.66,424.15 L110.55,424.28 L111.44,424.42 L112.33,424.56 L113.22,424.71 L114.12,424.86 L115.01,425.03 L115.90,425.19 L116.79,425.37 L117.68,425.55 L118.57,425.74 L119.46,425.93 L120.35,426.13 L121.24,426.33 L122.13,426.54 L123.02,426.76 L123.91,426.97 L124.80,427.20 L125.69,427.42 L126.58,427.65 L127.47,427.88 L128.36,428.12 L129.25,428.35 L130.14,428.59 L131.03,428.82 L131.92,429.06 L132.81,429.29 L133.70,429.52 L134.59,429.75 L135.48,429.98 L136.37,430.21 L137.26,430.42 L138.15,430.64 L139.04,430.85 L139.93,431.06 L140.82,431.26 L141.71,431.45 L142.60,431.64 L143.49,431.82 L144.38,432.00 L145.27,432.17 L146.16,432.33 L147.05,432.49 L147.94,432.64 L148.83,432.79 L149.72,432.93 L150.61,433.06 L151.50,433.19 L152.39,433.31 L153.28,433.42 L154.18,433.53 L155.07,433.64 L155.96,433.74 L156.85,433.83 L157.74,433.92 L158.63,434.01 L159.52,434.09 L160.41,434.17 L161.30,434.24 L162.19,434.31 L163.08,434.38 L163.97,434.44 L164.86,434.51 L165.75,434.56 L166.64,434.62 L167.53,434.67 L168.42,434.72 L169.31,434.77 L170.20,434.82 L171.09,434.86 L171.98,434.91 L172.87,434.95 L173.76,434.99 L174.65,435.03 L175.54,435.07 L176.43,435.11 L177.32,435.15 L178.21,435.19 L179.10,435.22 L179.99,435.26 L180.88,435.29 L181.77,435.33 L182.66,435.37 L183.55,435.40 L184.44,435.44 L185.33,435.47 L186.22,435.51 L187.11,435.55 L188.00,435.59 L188.89,435.63 L189.78,435.67 L190.67,435.71 L191.56,435.75 L192.45,435.79 L193.35,435.83 L194.24,435.88 L195.13,435.92 L196.02,435.97 L196.91,436.02 L197.80,436.07 L198.69,436.12 L199.58,436.17 L200.47,436.23 L201.36,436.29 L202.25,436.35 L203.14,436.41 L204.03,436.47 L204.92,436.54 L205.81,436.61 L206.70,436.68 L207.59,436.75 L208.48,436.83 L209.37,436.91 L210.26,436.99 L211.15,437.08 L212.04,437.17 L212.93,437.26 L213.82,437.36 L214.71,437.46 L215.60,437.57 L216.49,437.68 L217.38,437.79 L218.27,437.91 L219.16,438.03 L220.05,438.16 L220.94,438.29 L221.83,438.43 L222.72,438.57 L223.61,438.72 L224.50,438.88 L225.39,439.04 L226.28,439.20 L227.17,439.38 L228.06,439.56 L228.95,439.74 L229.84,439.94 L230.73,440.14 L231.62,440.35 L232.52,440.56 L233.41,440.79 L234.30,441.02 L235.19,441.26 L236.08,441.51 L236.97,441.77 L237.86,442.04 L238.75,442.32 L239.64,442.60 L240.53,442.90 L241.42,443.21 L242.31,443.53 L243.20,443.86 L244.09,444.20 L244.98,444.55 L245.87,444.91 L246.76,445.29 L247.65,445.68 L248.54,446.08 L249.43,446.49 L250.32,446.91 L251.21,447.35 L252.10,447.80 L252.99,448.27 L253.88,448.75 L254.77,449.24 L255.66,449.74 L256.55,450.26 L257.44,450.80 L258.33,451.34 L259.22,451.90 L260.11,452.48 L261.00,453.07 L261.89,453.67 L262.78,454.29 L263.67,454.92 L264.56,455.56 L265.45,456.22 L266.34,456.89 L267.23,457.57 L268.12,458.27 L269.01,458.98 L269.90,459.70 L270.79,460.44 L271.68,461.18 L272.58,461.94 L273.47,462.71 L274.36,463.48 L275.25,464.27 L276.14,465.06 L277.03,465.87 L277.92,466.68 L278.81,467.50 L279.70,468.32 L280.59,469.15 L281.48,469.99 L282.37,470.82 L283.26,471.67 L284.15,472.51 L285.04,473.36 L285.93,474.20 L286.82,475.05 L287.71,475.90 L288.60,476.74 L289.49,477.59 L290.38,478.43 L291.27,479.26 L292.16,480.09 L293.05,480.92 L293.94,481.73 L294.83,482.55 L295.72,483.35 L296.61,484.14 L297.50,484.93 L298.39,485.71 L299.28,486.47 L300.17,487.23 L301.06,487.97 L301.95,488.70 L302.84,489.42 L303.73,490.12 L304.62,490.82 L305.51,491.49 L306.40,492.16 L307.29,492.81 L308.18,493.45 L309.07,494.07 L309.96,494.67 L310.85,495.26 L311.75,495.84 L312.64,496.40 L313.53,496.95 L314.42,497.48 L315.31,498.00 L316.20,498.50 L317.09,498.99 L317.98,499.46 L318.87,499.92 L319.76,500.36 L320.65,500.79 L321.54,501.20 L322.43,501.60 L323.32,501.99 L324.21,502.37 L325.10,502.73 L325.99,503.08 L326.88,503.41 L327.77,503.74 L328.66,504.05 L329.55,504.35 L330.44,504.64 L331.33,504.91 L332.22,505.18 L333.11,505.44 L334.00,505.68 L334.89,505.92 L335.78,506.15 L336.67,506.37 L337.56,506.58 L338.45,506.78 L339.34,506.97 L340.23,507.15 L341.12,507.33 L342.01,507.50 L342.90,507.66 L343.79,507.81 L344.68,507.96 L345.57,508.10 L346.46,508.23 L347.35,508.36 L348.24,508.48 L349.13,508.60 L350.02,508.71 L350.92,508.81 L351.81,508.91 L352.70,509.01 L353.59,509.10 L354.48,509.18 L355.37,509.26 L356.26,509.34 L357.15,509.41 L358.04,509.47 L358.93,509.53 L359.82,509.59 L360.71,509.64 L361.60,509.68 L362.49,509.72 L363.38,509.76 L364.27,509.79 L365.16,509.81 L366.05,509.83 L366.94,509.85 L367.83,509.85 L368.72,509.85 L369.61,509.84 L370.50,509.83 L370.75,509.82 L371.00,509.81 L371.25,509.80 L371.50,509.80 L371.75,509.79 L372.00,509.78 L372.25,509.76 L372.50,509.75 L372.75,509.74 L373.00,509.73 L373.25,509.71 L373.50,509.70 L373.75,509.68 L374.00,509.66 L374.25,509.64 L374.50,509.62 L374.75,509.60 L375.00,509.58 L375.25,509.56 L375.50,509.53 L375.75,509.51 L376.00,509.48 L376.25,509.45 L376.50,509.42 L376.75,509.39 L377.00,509.36 L377.25,509.32 L377.50,509.29 L377.75,509.25 L378.00,509.21 L378.25,509.17 L378.50,509.13 L378.75,509.08 L379.00,509.03 L379.25,508.99 L379.50,508.94 L379.75,508.88 L380.00,508.83 L380.25,508.77 L380.50,508.71 L380.75,508.65 L381.00,508.59 L381.25,508.52 L381.50,508.45 L381.75,508.38 L382.00,508.30 L382.25,508.23 L382.50,508.14 L382.75,508.06 L383.00,507.97 L383.25,507.88 L383.50,507.79 L383.75,507.69 L384.00,507.59 L384.25,507.49 L384.50,507.38 L384.75,507.26 L385.00,507.15 L385.25,507.02 L385.50,506.90 L385.75,506.77 L386.00,506.63 L386.25,506.49 L386.50,506.34 L386.75,506.19 L387.00,506.04 L387.25,505.87 L387.50,505.70 L387.75,505.53 L388.00,505.35 L388.25,505.16 L388.50,504.97 L388.75,504.76 L389.00,504.56 L389.25,504.34 L389.50,504.11 L389.75,503.88 L390.00,503.64 L390.25,503.39 L390.50,503.13 L390.75,502.87 L391.00,502.59 L391.25,502.30 L391.50,502.00 L391.75,501.69 L392.00,501.37 L392.25,501.04 L392.50,500.70 L392.75,500.35 L393.00,499.98 L393.25,499.60 L393.50,499.20 L393.75,498.79 L394.00,498.37 L394.25,497.93 L394.50,497.48 L394.75,497.01 L395.00,496.52 L395.25,496.02 L395.50,495.49 L395.75,494.95 L396.00,494.39 L396.25,493.81 L396.50,493.21 L396.75,492.59 L397.00,491.95 L397.25,491.28 L397.50,490.59 L397.75,489.87 L398.00,489.13 L398.25,488.37 L398.50,487.57 L398.75,486.75 L399.00,485.90 L399.25,485.02 L399.50,484.11 L399.75,483.16 L400.00,482.18 L400.25,481.17 L400.50,480.12 L400.50,99.09 L400.75,98.04 L401.00,97.02 L401.25,96.05 L401.50,95.10 L401.75,94.19 L402.00,93.31 L402.25,92.46 L402.50,91.63 L402.75,90.84 L403.00,90.07 L403.25,89.33 L403.50,88.62 L403.75,87.93 L404.00,87.26 L404.25,86.62 L404.50,86.00 L404.75,85.39 L405.00,84.82 L405.25,84.26 L405.50,83.71 L405.75,83.19 L406.00,82.69 L406.25,82.20 L406.50,81.73 L406.75,81.28 L407.00,80.84 L407.25,80.42 L407.50,80.01 L407.75,79.61 L408.00,79.23 L408.25,78.86 L408.50,78.51 L408.75,78.17 L409.00,77.84 L409.25,77.52 L409.50,77.21 L409.75,76.91 L410.00,76.62 L410.25,76.35 L410.50,76.08 L410.75,75.82 L411.00,75.57 L411.25,75.33 L411.50,75.10 L411.75,74.87 L412.00,74.66 L412.25,74.45 L412.50,74.25 L412.75,74.05 L413.00,73.86 L413.25,73.68 L413.50,73.51 L413.75,73.34 L414.00,73.18 L414.25,73.02 L414.50,72.87 L414.75,72.72 L415.00,72.58 L415.25,72.45 L415.50,72.32 L415.75,72.19 L416.00,72.07 L416.25,71.95 L416.50,71.84 L416.75,71.73 L417.00,71.63 L417.25,71.52 L417.50,71.43 L417.75,71.33 L418.00,71.24 L418.25,71.16 L418.50,71.07 L418.75,70.99 L419.00,70.91 L419.25,70.84 L419.50,70.77 L419.75,70.70 L420.00,70.63 L420.25,70.57 L420.50,70.51 L420.75,70.45 L421.00,70.39 L421.25,70.34 L421.50,70.29 L421.75,70.24 L422.00,70.19 L422.25,70.14 L422.50,70.10 L422.75,70.05 L423.00,70.01 L423.25,69.98 L423.50,69.94 L423.75,69.90 L424.00,69.87 L424.25,69.84 L424.50,69.81 L424.75,69.78 L425.00,69.75 L425.25,69.72 L425.50,69.70 L425.75,69.67 L426.00,69.65 L426.25,69.63 L426.50,69.61 L426.75,69.59 L427.00,69.57 L427.25,69.55 L427.50,69.53 L427.75,69.52 L428.00,69.50 L428.25,69.49 L428.50,69.48 L428.75,69.47 L429.00,69.46 L429.25,69.45 L429.50,69.44 L429.75,69.43 L430.00,69.42 L430.25,69.41 L430.50,69.41 L431.39,69.39 L432.28,69.39 L433.17,69.39 L434.06,69.40 L434.95,69.41 L435.85,69.43 L436.74,69.46 L437.63,69.49 L438.52,69.53 L439.41,69.57 L440.30,69.62 L441.19,69.68 L442.08,69.73 L442.97,69.80 L443.86,69.87 L444.76,69.94 L445.65,70.02 L446.54,70.10 L447.43,70.19 L448.32,70.28 L449.21,70.38 L450.10,70.49 L450.99,70.60 L451.88,70.71 L452.77,70.83 L453.67,70.96 L454.56,71.09 L455.45,71.23 L456.34,71.38 L457.23,71.53 L458.12,71.69 L459.01,71.86 L459.90,72.04 L460.79,72.22 L461.68,72.41 L462.58,72.61 L463.47,72.82 L464.36,73.04 L465.25,73.26 L466.14,73.50 L467.03,73.74 L467.92,74.00 L468.81,74.27 L469.70,74.54 L470.59,74.83 L471.48,75.13 L472.38,75.44 L473.27,75.77 L474.16,76.10 L475.05,76.45 L475.94,76.81 L476.83,77.19 L477.72,77.57 L478.61,77.97 L479.50,78.39 L480.39,78.82 L481.29,79.26 L482.18,79.72 L483.07,80.19 L483.96,80.67 L484.85,81.18 L485.74,81.69 L486.63,82.22 L487.52,82.77 L488.41,83.33 L489.30,83.91 L490.20,84.50 L491.09,85.10 L491.98,85.73 L492.87,86.36 L493.76,87.01 L494.65,87.68 L495.54,88.35 L496.43,89.05 L497.32,89.75 L498.21,90.47 L499.11,91.20 L500.00,91.95 L500.89,92.70 L501.78,93.47 L502.67,94.24 L503.56,95.03 L504.45,95.82 L505.34,96.63 L506.23,97.44 L507.12,98.26 L508.02,99.08 L508.91,99.91 L509.80,100.75 L510.69,101.59 L511.58,102.43 L512.47,103.28 L513.36,104.13 L514.25,104.97 L515.14,105.82 L516.03,106.67 L516.92,107.51 L517.82,108.36 L518.71,109.20 L519.60,110.03 L520.49,110.86 L521.38,111.69 L522.27,112.51 L523.16,113.32 L524.05,114.12 L524.94,114.92 L525.83,115.71 L526.73,116.48 L527.62,117.25 L528.51,118.01 L529.40,118.75 L530.29,119.49 L531.18,120.21 L532.07,120.92 L532.96,121.62 L533.85,122.30 L534.74,122.98 L535.64,123.64 L536.53,124.28 L537.42,124.91 L538.31,125.53 L539.20,126.13 L540.09,126.72 L540.98,127.30 L541.87,127.86 L542.76,128.41 L543.65,128.94 L544.55,129.46 L545.44,129.96 L546.33,130.46 L547.22,130.93 L548.11,131.40 L549.00,131.85 L549.89,132.29 L550.78,132.71 L551.67,133.13 L552.56,133.53 L553.45,133.92 L554.35,134.29 L555.24,134.65 L556.13,135.01 L557.02,135.35 L557.91,135.68 L558.80,136.00 L559.69,136.30 L560.58,136.60 L561.47,136.89 L562.36,137.17 L563.26,137.44 L564.15,137.70 L565.04,137.95 L565.93,138.19 L566.82,138.42 L567.71,138.64 L568.60,138.86 L569.49,139.07 L570.38,139.27 L571.27,139.46 L572.17,139.65 L573.06,139.83 L573.95,140.00 L574.84,140.17 L575.73,140.33 L576.62,140.48 L577.51,140.63 L578.40,140.78 L579.29,140.91 L580.18,141.05 L581.08,141.17 L581.97,141.30 L582.86,141.41 L583.75,141.53 L584.64,141.64 L585.53,141.74 L586.42,141.84 L587.31,141.94 L588.20,142.03 L589.09,142.12 L589.98,142.21 L590.88,142.29 L591.77,142.37 L592.66,142.45 L593.55,142.52 L594.44,142.60 L595.33,142.67 L596.22,142.73 L597.11,142.80 L598.00,142.86 L598.89,142.92 L599.79,142.97 L600.68,143.03 L601.57,143.08 L602.46,143.14 L603.35,143.19 L604.24,143.23 L605.13,143.28 L606.02,143.33 L606.91,143.37 L607.80,143.41 L608.70,143.46 L609.59,143.50 L610.48,143.54 L611.37,143.58 L612.26,143.62 L613.15,143.65 L614.04,143.69 L614.93,143.73 L615.82,143.76 L616.71,143.80 L617.61,143.84 L618.50,143.87 L619.39,143.91 L620.28,143.94 L621.17,143.98 L622.06,144.02 L622.95,144.05 L623.84,144.09 L624.73,144.13 L625.62,144.17 L626.52,144.21 L627.41,144.25 L628.30,144.30 L629.19,144.34 L630.08,144.38 L630.97,144.43 L631.86,144.48 L632.75,144.53 L633.64,144.59 L634.53,144.64 L635.42,144.70 L636.32,144.76 L637.21,144.83 L638.10,144.89 L638.99,144.96 L639.88,145.04 L640.77,145.12 L641.66,145.20 L642.55,145.28 L643.44,145.37 L644.33,145.47 L645.23,145.57 L646.12,145.68 L647.01,145.79 L647.90,145.90 L648.79,146.02 L649.68,146.15 L650.57,146.29 L651.46,146.43 L652.35,146.57 L653.24,146.72 L654.14,146.88 L655.03,147.05 L655.92,147.22 L656.81,147.40 L657.70,147.58 L658.59,147.77 L659.48,147.97 L660.37,148.17 L661.26,148.37 L662.15,148.58 L663.05,148.80 L663.94,149.02 L664.83,149.24 L665.72,149.47 L666.61,149.70 L667.50,149.94 L668.39,150.17 L669.28,150.40 L670.17,150.64 L671.06,150.88 L671.95,151.11 L672.85,151.34 L673.74,151.58 L674.63,151.81 L675.52,152.03 L676.41,152.25 L677.30,152.47 L678.19,152.69 L679.08,152.90 L679.97,153.10 L680.86,153.30 L681.76,153.49 L682.65,153.68 L683.54,153.86 L684.43,154.03 L685.32,154.20 L686.21,154.36 L687.10,154.51 L687.99,154.66 L688.88,154.80 L689.77,154.94 L690.67,155.06 L691.56,155.19 L692.45,155.30 L693.34,155.41 L694.23,155.52 L695.12,155.62 L696.01,155.71 L696.90,155.80 L697.79,155.88 L698.68,155.96 L699.58,156.03 L700.47,156.10 L701.36,156.17 L702.25,156.23 L703.14,156.29 L704.03,156.34 L704.92,156.40 L705.81,156.44 L706.70,156.49 L707.59,156.53 L708.48,156.57 L709.38,156.61 L710.27,156.64 L711.16,156.67 L712.05,156.70 L712.94,156.73 L713.83,156.76 L714.72,156.78 L715.61,156.81 L716.50,156.83 L717.39,156.85 L718.29,156.87 L719.18,156.88 L720.07,156.90 L720.96,156.92 L721.85,156.93 L722.74,156.94 L723.63,156.96 L724.52,156.97 L725.41,156.98 L726.30,156.99 L727.20,157.00 L728.09,157.01 L728.98,157.01 L729.87,157.02 L730.76,157.03 L731.65,157.04 L732.54,157.04 L733.43,157.05 L734.32,157.05 L735.21,157.06 L736.11,157.06 L737.00,157.07 L737.89,157.07 L738.78,157.07 L739.67,157.08 L740.56,157.08 L741.45,157.08 L742.34,157.09 L743.23,157.09 L744.12,157.09 L745.02,157.09 L745.91,157.10 L746.80,157.10 L747.69,157.10 L748.58,157.10 L749.47,157.10 L750.36,157.10 L751.25,157.11 L752.14,157.11 L753.03,157.11 L753.92,157.11 L754.82,157.11 L755.71,157.11 L756.60,157.11 L757.49,157.11 L758.38,157.11 L759.27,157.11 L760.16,157.11 L761.05,157.12 L761.94,157.12 L762.83,157.12 L763.73,157.12 L764.62,157.12 L765.51,157.12 L766.40,157.12 L767.29,157.12 L768.18,157.12 L769.07,157.12 L769.96,157.12 L770.85,157.12 L771.74,157.12 L772.64,157.12 L773.53,157.12 L774.42,157.12 L775.31,157.12 L776.20,157.12 L777.09,157.12 L777.98,157.12 L778.87,157.12 L779.76,157.12 L780.65,157.12 L781.55,157.12 L782.44,157.12 L783.33,157.12 L784.22,157.12 L785.11,157.12 L786.00,157.12" stroke="#cccc00"/>
<path d="M15.30,478.30 L16.19,478.30 L17.08,478.30 L17.97,478.30 L18.86,478.30 L19.75,478.30 L20.64,478.30 L21.53,478.30 L22.42,478.30 L23.31,478.30 L24.20,478.30 L25.09,478.30 L25.98,478.30 L26.87,478.30 L27.76,478.30 L28.65,478.30 L29.54,478.30 L30.43,478.30 L31.32,478.30 L32.21,478.30 L33.10,478.30 L33.99,478.30 L34.88,478.30 L35.78,478.30 L36.67,478.30 L37.56,478.30 L38.45,478.30 L39.34,478.30 L40.23,478.30 L41.12,478.30 L42.01,478.30 L42.90,478.30 L43.79,478.30 L44.68,478.30 L45.57,478.30 L46.46,478.30 L47.35,478.30 L48.24,478.30 L49.13,478.30 L50.02,478.30 L50.91,478.30 L51.80,478.30 L52.69,478.30 L53.58,478.30 L54.47,478.30 L55.36,478.30 L56.25,478.30 L57.14,478.30 L58.03,478.30 L58.92,478.30 L59.81,478.30 L60.70,478.30 L61.59,478.30 L62.48,478.30 L63.37,478.30 L64.26,478.30 L65.15,478.30 L66.04,478.30 L66.93,478.30 L67.82,478.30 L68.71,478.30 L69.60,478.30 L70.49,478.30 L71.38,478.30 L72.27,478.30 L73.16,478.30 L74.05,478.30 L74.95,478.30 L75.84,478.30 L76.73,478.30 L77.62,478.30 L78.51,478.30 L79.40,478.30 L80.29,478.30 L81.18,478.30 L82.07,478.30 L82.96,478.30 L83.85,478.30 L84.74,478.30 L85.63,478.30 L86.52,478.30 L87.41,478.30 L88.30,478.30 L89.19,478.30 L90.08,478.30 L90.97,478.30 L91.86,478.30 L92.75,478.30 L93.64,478.30 L94.53,478.30 L95.42,478.30 L96.31,478.30 L97.20,478.30 L98.09,478.30 L98.98,478.30 L99.87,478.30 L100.76,478.30 L101.65,478.30 L102.54,478.30 L103.43,478.30 L104.32,478.30 L105.21,478.30 L106.10,478.30 L106.99,478.30 L107.88,478.30 L108.77,478.30 L109.66,478.30 L110.55,478.30 L111.44,478.30 L112.33,478.30 L113.22,478.30 L114.12,478.30 L115.01,478.30 L115.90,478.30 L116.79,478.30 L117.68,478.30 L118.57,478.30 L119.46,478.30 L120.35,478.30 L121.24,478.30 L122.13,478.30 L123.02,478.30 L123.91,478.30 L124.80,478.30 L125.69,478.30 L126.58,478.30 L127.47,478.30 L128.36,478.30 L129.25,478.30 L130.14,478.30 L131.03,478.30 L131.92,478.30 L132.81,478.30 L133.70,478.30 L134.59,478.30 L135.48,478.30 L136.37,478.30 L137.26,478.31 L138.15,478.31 L139.04,478.31 L139.93,478.31 L140.82,478.31 L141.71,478.31 L142.60,478.31 L143.49,478.31 L144.38,478.31 L145.27,478.31 L146.16,478.31 L147.05,478.31 L147.94,478.31 L148.83,478.31 L149.72,478.31 L150.61,478.31 L151.50,478.31 L152.39,478.31 L153.28,478.31 L154.18,478.32 L155.07,478.32 L155.96,478.32 L156.85,478.32 L157.74,478.32 L158.63,478.32 L159.52,478.32 L160.41,478.32 L161.30,478.33 L162.19,478.33 L163.08,478.33 L163.97,478.33 L164.86,478.33 L165.75,478.33 L166.64,478.34 L167.53,478.34 L168.42,478.34 L169.31,478.34 L170.20,478.35 L171.09,478.35 L171.98,478.35 L172.87,478.36 L173.76,478.36 L174.65,478.36 L175.54,478.37 L176.43,478.37 L177.32,478.37 L178.21,478.38 L179.10,478.38 L179.99,478.39 L180.88,478.40 L181.77,478.40 L182.66,478.41 L183.55,478.41 L184.44,478.42 L185.33,478.43 L186.22,478.44 L187.11,478.44 L188.00,478.45 L188.89,478.46 L189.78,478.47 L190.67,478.48 L191.56,478.49 L192.45,478.51 L193.35,478.52 L194.24,478.53 L195.13,478.55 L196.02,478.56 L196.91,478.58 L197.80,478.60 L198.69,478.61 L199.58,478.63 L200.47,478.65 L201.36,478.67 L202.25,478.70 L203.14,478.72 L204.03,478.75 L204.92,478.77 L205.81,478.80 L206.70,478.83 L207.59,478.87 L208.48,478.90 L209.37,478.94 L210.26,478.98 L211.15,479.02 L212.04,479.06 L212.93,479.11 L213.82,479.15 L214.71,479.21 L215.60,479.26 L216.49,479.32 L217.38,479.38 L218.27,479.44 L219.16,479.51 L220.05,479.59 L220.94,479.66 L221.83,479.74 L222.72,479.83 L223.61,479.92 L224.50,480.02 L225.39,480.12 L226.28,480.23 L227.17,480.34 L228.06,480.46 L228.95,480.58 L229.84,480.72 L230.73,480.86 L231.62,481.00 L232.52,481.16 L233.41,481.32 L234.30,481.50 L235.19,481.68 L236.08,481.87 L236.97,482.07 L237.86,482.28 L238.75,482.50 L239.64,482.74 L240.53,482.98 L241.42,483.23 L242.31,483.50 L243.20,483.78 L244.09,484.07 L244.98,484.38 L245.87,484.70 L246.76,485.03 L247.65,485.38 L248.54,485.74 L249.43,486.11 L250.32,486.50 L251.21,486.90 L252.10,487.32 L252.99,487.75 L253.88,488.19 L254.77,488.65 L255.66,489.12 L256.55,489.61 L257.44,490.11 L258.33,490.62 L259.22,491.14 L260.11,491.68 L261.00,492.22 L261.89,492.77 L262.78,493.34 L263.67,493.90 L264.56,494.48 L265.45,495.06 L266.34,495.65 L267.23,496.23 L268.12,496.82 L269.01,497.41 L269.90,498.00 L270.79,498.58 L271.68,499.17 L272.58,499.74 L273.47,500.31 L274.36,500.87 L275.25,501.42 L276.14,501.95 L277.03,502.48 L277.92,502.99 L278.81,503.49 L279.70,503.98 L280.59,504.44 L281.48,504.90 L282.37,505.33 L283.26,505.75 L284.15,506.15 L285.04,506.53 L285.93,506.89 L286.82,507.23 L287.71,507.56 L288.60,507.87 L289.49,508.16 L290.38,508.44 L291.27,508.69 L292.16,508.93 L293.05,509.16 L293.94,509.37 L294.83,509.56 L295.72,509.75 L296.61,509.91 L297.50,510.07 L298.39,510.21 L299.28,510.35 L300.17,510.47 L301.06,510.58 L301.95,510.69 L302.84,510.78 L303.73,510.87 L304.62,510.95 L305.51,511.02 L306.40,511.08 L307.29,511.14 L308.18,511.20 L309.07,511.25 L309.96,511.29 L310.85,511.33 L311.75,511.37 L312.64,511.40 L313.53,511.43 L314.42,511.46 L315.31,511.48 L316.20,511.51 L317.09,511.53 L317.98,511.54 L318.87,511.56 L319.76,511.58 L320.65,511.59 L321.54,511.60 L322.43,511.61 L323.32,511.62 L324.21,511.63 L325.10,511.64 L325.99,511.64 L326.88,511.65 L327.77,511.65 L328.66,511.66 L329.55,511.66 L330.44,511.67 L331.33,511.67 L332.22,511.67 L333.11,511.68 L334.00,511.68 L334.89,511.68 L335.78,511.68 L336.67,511.68 L337.56,511.68 L338.45,511.69 L339.34,511.69 L340.23,511.69 L341.12,511.69 L342.01,511.69 L342.90,511.69 L343.79,511.69 L344.68,511.69 L345.57,511.69 L346.46,511.68 L347.35,511.68 L348.24,511.68 L349.13,511.68 L350.02,511.68 L350.92,511.68 L351.81,511.67 L352.70,511.67 L353.59,511.67 L354.48,511.66 L355.37,511.66 L356.26,511.65 L357.15,511.65 L358.04,511.64 L358.93,511.63 L359.82,511.62 L360.71,511.61 L361.60,511.60 L362.49,511.58 L363.38,511.57 L364.27,511.55 L365.16,511.53 L366.05,511.51 L366.94,511.48 L367.83,511.45 L368.72,511.41 L369.61,511.37 L370.50,511.33 L370.75,511.31 L371.00,511.30 L371.25,511.28 L371.50,511.27 L371.75,511.25 L372.00,511.23 L372.25,511.22 L372.50,511.20 L372.75,511.18 L373.00,511.16 L373.25,511.14 L373.50,511.12 L373.75,511.10 L374.00,511.07 L374.25,511.05 L374.50,511.03 L374.75,511.00 L375.00,510.98 L375.25,510.95 L375.50,510.92 L375.75,510.89 L376.00,510.86 L376.25,510.83 L376.50,510.80 L376.75,510.76 L377.00,510.73 L377.25,510.69 L377.50,510.65 L377.75,510.61 L378.00,510.57 L378.25,510.53 L378.50,510.49 L378.75,510.44 L379.00,510.40 L379.25,510.35 L379.50,510.30 L379.75,510.24 L380.00,510.19 L380.25,510.13 L380.50,510.07 L380.75,510.01 L381.00,509.95 L381.25,509.88 L381.50,509.82 L381.75,509.75 L382.00,509.67 L382.25,509.60 L382.50,509.52 L382.75,509.44 L383.00,509.35 L383.25,509.26 L383.50,509.17 L383.75,509.08 L384.00,508.98 L384.25,508.88 L384.50,508.77 L384.75,508.66 L385.00,508.55 L385.25,508.43 L385.50,508.31 L385.75,508.18 L386.00,508.05 L386.25,507.91 L386.50,507.77 L386.75,507.62 L387.00,507.47 L387.25,507.31 L387.50,507.15 L387.75,506.98 L388.00,506.80 L388.25,506.62 L388.50,506.43 L388.75,506.23 L389.00,506.02 L389.25,505.81 L389.50,505.59 L389.75,505.36 L390.00,505.12 L390.25,504.88 L390.50,504.62 L390.75,504.36 L391.00,504.08 L391.25,503.80 L391.50,503.50 L391.75,503.19 L392.00,502.88 L392.25,502.55 L392.50,502.20 L392.75,501.85 L393.00,501.48 L393.25,501.09 L393.50,500.70 L393.75,500.29 L394.00,499.86 L394.25,499.41 L394.50,498.95 L394.75,498.48 L395.00,497.98 L395.25,497.47 L395.50,496.94 L395.75,496.38 L396.00,495.81 L396.25,495.21 L396.50,494.60 L396.75,493.96 L397.00,493.29 L397.25,492.60 L397.50,491.89 L397.75,491.15 L398.00,490.38 L398.25,489.58 L398.50,488.75 L398.75,487.89 L399.00,487.00 L399.25,486.07 L399.50,485.11 L399.75,484.12 L400.00,483.08 L400.25,482.01 L400.50,480.90 L400.50,98.30 L400.75,97.19 L401.00,96.12 L401.25,95.08 L401.50,94.09 L401.75,93.13 L402.00,92.20 L402.25,91.31 L402.50,90.45 L402.75,89.62 L403.00,88.82 L403.25,88.05 L403.50,87.31 L403.75,86.60 L404.00,85.91 L404.25,85.24 L404.50,84.60 L404.75,83.99 L405.00,83.39 L405.25,82.82 L405.50,82.26 L405.75,81.73 L406.00,81.22 L406.25,80.72 L406.50,80.25 L406.75,79.79 L407.00,79.34 L407.25,78.91 L407.50,78.50 L407.75,78.11 L408.00,77.72 L408.25,77.35 L408.50,77.00 L408.75,76.65 L409.00,76.32 L409.25,76.01 L409.50,75.70 L409.75,75.40 L410.00,75.12 L410.25,74.84 L410.50,74.58 L410.75,74.32 L411.00,74.08 L411.25,73.84 L411.50,73.61 L411.75,73.39 L412.00,73.18 L412.25,72.97 L412.50,72.77 L412.75,72.58 L413.00,72.40 L413.25,72.22 L413.50,72.05 L413.75,71.89 L414.00,71.73 L414.25,71.58 L414.50,71.43 L414.75,71.29 L415.00,71.15 L415.25,71.02 L415.50,70.89 L415.75,70.77 L416.00,70.65 L416.25,70.54 L416.50,70.43 L416.75,70.32 L417.00,70.22 L417.25,70.12 L417.50,70.03 L417.75,69.94 L418.00,69.85 L418.25,69.76 L418.50,69.68 L418.75,69.60 L419.00,69.53 L419.25,69.45 L419.50,69.38 L419.75,69.32 L420.00,69.25 L420.25,69.19 L420.50,69.13 L420.75,69.07 L421.00,69.01 L421.25,68.96 L421.50,68.90 L421.75,68.85 L422.00,68.80 L422.25,68.76 L422.50,68.71 L422.75,68.67 L423.00,68.63 L423.25,68.59 L423.50,68.55 L423.75,68.51 L424.00,68.47 L424.25,68.44 L424.50,68.40 L424.75,68.37 L425.00,68.34 L425.25,68.31 L425.50,68.28 L425.75,68.25 L426.00,68.22 L426.25,68.20 L426.50,68.17 L426.75,68.15 L427.00,68.13 L427.25,68.10 L427.50,68.08 L427.75,68.06 L428.00,68.04 L428.25,68.02 L428.50,68.00 L428.75,67.98 L429.00,67.97 L429.25,67.95 L429.50,67.93 L429.75,67.92 L430.00,67.90 L430.25,67.89 L430.50,67.87 L431.39,67.83 L432.28,67.79 L433.17,67.75 L434.06,67.72 L434.95,67.69 L435.85,67.67 L436.74,67.65 L437.63,67.63 L438.52,67.62 L439.41,67.60 L440.30,67.59 L441.19,67.58 L442.08,67.57 L442.97,67.56 L443.86,67.55 L444.76,67.55 L445.65,67.54 L446.54,67.54 L447.43,67.53 L448.32,67.53 L449.21,67.53 L450.10,67.52 L450.99,67.52 L451.88,67.52 L452.77,67.52 L453.67,67.52 L454.56,67.52 L455.45,67.51 L456.34,67.51 L457.23,67.51 L458.12,67.51 L459.01,67.51 L459.90,67.51 L460.79,67.51 L461.68,67.52 L462.58,67.52 L463.47,67.52 L464.36,67.52 L465.25,67.52 L466.14,67.52 L467.03,67.52 L467.92,67.53 L468.81,67.53 L469.70,67.53 L470.59,67.54 L471.48,67.54 L472.38,67.55 L473.27,67.55 L474.16,67.56 L475.05,67.56 L475.94,67.57 L476.83,67.58 L477.72,67.59 L478.61,67.60 L479.50,67.61 L480.39,67.63 L481.29,67.64 L482.18,67.66 L483.07,67.67 L483.96,67.70 L484.85,67.72 L485.74,67.74 L486.63,67.77 L487.52,67.80 L488.41,67.83 L489.30,67.87 L490.20,67.91 L491.09,67.96 L491.98,68.01 L492.87,68.06 L493.76,68.12 L494.65,68.19 L495.54,68.26 L496.43,68.34 L497.32,68.43 L498.21,68.52 L499.11,68.63 L500.00,68.74 L500.89,68.86 L501.78,69.00 L502.67,69.14 L503.56,69.30 L504.45,69.47 L505.34,69.65 L506.23,69.85 L507.12,70.06 L508.02,70.29 L508.91,70.53 L509.80,70.79 L510.69,71.07 L511.58,71.36 L512.47,71.67 L513.36,72.00 L514.25,72.35 L515.14,72.71 L516.03,73.10 L516.92,73.50 L517.82,73.92 L518.71,74.35 L519.60,74.81 L520.49,75.28 L521.38,75.76 L522.27,76.27 L523.16,76.78 L524.05,77.31 L524.94,77.85 L525.83,78.40 L526.73,78.96 L527.62,79.53 L528.51,80.11 L529.40,80.69 L530.29,81.27 L531.18,81.86 L532.07,82.45 L532.96,83.04 L533.85,83.63 L534.74,84.21 L535.64,84.79 L536.53,85.37 L537.42,85.94 L538.31,86.50 L539.20,87.05 L540.09,87.60 L540.98,88.13 L541.87,88.65 L542.76,89.16 L543.65,89.66 L544.55,90.14 L545.44,90.61 L546.33,91.07 L547.22,91.51 L548.11,91.94 L549.00,92.36 L549.89,92.76 L550.78,93.14 L551.67,93.52 L552.56,93.88 L553.45,94.22 L554.35,94.55 L555.24,94.87 L556.13,95.17 L557.02,95.46 L557.91,95.74 L558.80,96.00 L559.69,96.26 L560.58,96.50 L561.47,96.73 L562.36,96.95 L563.26,97.16 L564.15,97.36 L565.04,97.55 L565.93,97.73 L566.82,97.90 L567.71,98.07 L568.60,98.22 L569.49,98.37 L570.38,98.51 L571.27,98.64 L572.17,98.76 L573.06,98.88 L573.95,98.99 L574.84,99.10 L575.73,99.20 L576.62,99.29 L577.51,99.38 L578.40,99.47 L579.29,99.55 L580.18,99.63 L581.08,99.70 L581.97,99.77 L582.86,99.83 L583.75,99.89 L584.64,99.95 L585.53,100.00 L586.42,100.05 L587.31,100.10 L588.20,100.15 L589.09,100.19 L589.98,100.23 L590.88,100.27 L591.77,100.31 L592.66,100.34 L593.55,100.37 L594.44,100.40 L595.33,100.43 L596.22,100.46 L597.11,100.48 L598.00,100.51 L598.89,100.53 L599.79,100.55 L600.68,100.57 L601.57,100.59 L602.46,100.61 L603.35,100.63 L604.24,100.64 L605.13,100.66 L606.02,100.67 L606.91,100.68 L607.80,100.70 L608.70,100.71 L609.59,100.72 L610.48,100.73 L611.37,100.74 L612.26,100.75 L613.15,100.76 L614.04,100.77 L614.93,100.77 L615.82,100.78 L616.71,100.79 L617.61,100.79 L618.50,100.80 L619.39,100.81 L620.28,100.81 L621.17,100.82 L622.06,100.82 L622.95,100.83 L623.84,100.83 L624.73,100.83 L625.62,100.84 L626.52,100.84 L627.41,100.85 L628.30,100.85 L629.19,100.85 L630.08,100.85 L630.97,100.86 L631.86,100.86 L632.75,100.86 L633.64,100.86 L634.53,100.87 L635.42,100.87 L636.32,100.87 L637.21,100.87 L638.10,100.87 L638.99,100.87 L639.88,100.88 L640.77,100.88 L641.66,100.88 L642.55,100.88 L643.44,100.88 L644.33,100.88 L645.23,100.88 L646.12,100.88 L647.01,100.89 L647.90,100.89 L648.79,100.89 L649.68,100.89 L650.57,100.89 L651.46,100.89 L652.35,100.89 L653.24,100.89 L654.14,100.89 L655.03,100.89 L655.92,100.89 L656.81,100.89 L657.70,100.89 L658.59,100.89 L659.48,100.89 L660.37,100.89 L661.26,100.89 L662.15,100.89 L663.05,100.89 L663.94,100.90 L664.83,100.90 L665.72,100.90 L666.61,100.90 L667.50,100.90 L668.39,100.90 L669.28,100.90 L670.17,100.90 L671.06,100.90 L671.95,100.90 L672.85,100.90 L673.74,100.90 L674.63,100.90 L675.52,100.90 L676.41,100.90 L677.30,100.90 L678.19,100.90 L679.08,100.90 L679.97,100.90 L680.86,100.90 L681.76,100.90 L682.65,100.90 L683.54,100.90 L684.43,100.90 L685.32,100.90 L686.21,100.90 L687.10,100.90 L687.99,100.90 L688.88,100.90 L689.77,100.90 L690.67,100.90 L691.56,100.90 L692.45,100.90 L693.34,100.90 L694.23,100.90 L695.12,100.90 L696.01,100.90 L696.90,100.90 L697.79,100.90 L698.68,100.90 L699.58,100.90 L700.47,100.90 L701.36,100.90 L702.25,100.90 L703.14,100.90 L704.03,100.90 L704.92,100.90 L705.81,100.90 L706.70,100.90 L707.59,100.90 L708.48,100.90 L709.38,100.90 L710.27,100.90 L711.16,100.90 L712.05,100.90 L712.94,100.90 L713.83,100.90 L714.72,100.90 L715.61,100.90 L716.50,100.90 L717.39,100.90 L718.29,100.90 L719.18,100.90 L720.07,100.90 L720.96,100.90 L721.85,100.90 L722.74,100.90 L723.63,100.90 L724.52,100.90 L725.41,100.90 L726.30,100.90 L727.20,100.90 L728.09,100.90 L728.98,100.90 L729.87,100.90 L730.76,100.90 L731.65,100.90 L732.54,100.90 L733.43,100.90 L734.32,100.90 L735.21,100.90 L736.11,100.90 L737.00,100.90 L737.89,100.90 L738.78,100.90 L739.67,100.90 L740.56,100.90 L741.45,100.90 L742.34,100.90 L743.23,100.90 L744.12,100.90 L745.02,100.90 L745.91,100.90 L746.80,100.90 L747.69,100.90 L748.58,100.90 L749.47,100.90 L750.36,100.90 L751.25,100.90 L752.14,100.90 L753.03,100.90 L753.92,100.90 L754.82,100.90 L755.71,100.90 L756.60,100.90 L757.49,100.90 L758.38,100.90 L759.27,100.90 L760.16,100.90 L761.05,100.90 L761.94,100.90 L762.83,100.90 L763.73,100.90 L764.62,100.90 L765.51,100.90 L766.40,100.90 L767.29,100.90 L768.18,100.90 L769.07,100.90 L769.96,100.90 L770.85,100.90 L771.74,100.90 L772.64,100.90 L773.53,100.90 L774.42,100.90 L775.31,100.90 L776.20,100.90 L777.09,100.90 L777.98,100.90 L778.87,100.90 L779.76,100.90 L780.65,100.90 L781.55,100.90 L782.44,100.90 L783.33,100.90 L784.22,100.90 L785.11,100.90 L786.00,100.90" stroke="#cc0000"/>
</g>
<path d="M1.3,512.2 H800.4 M400.5,42.3 V537 M1.80,512.2 v-4.8 M32.50,512.2 v-4.8 M63.20,512.2 v-4.8 M93.90,512.2 v-8 M124.60,512.2 v-4.8 M155.30,512.2 v-4.8 M186.00,512.2 v-4.8 M216.70,512.2 v-4.8 M247.40,512.2 v-8 M278.10,512.2 v-4.8 M308.80,512.2 v-4.8 M339.50,512.2 v-4.8 M370.20,512.2 v-4.8 M431.60,512.2 v-4.8 M462.30,512.2 v-4.8 M493.00,512.2 v-4.8 M523.70,512.2 v-4.8 M554.40,512.2 v-8 M585.10,512.2 v-4.8 M615.80,512.2 v-4.8 M646.50,512.2 v-4.8 M677.20,512.2 v-4.8 M707.90,512.2 v-8 M738.60,512.2 v-4.8 M769.30,512.2 v-4.8 M800.00,512.2 v-4.8 M400.5,529.20 h4.8 M400.5,504.70 h4.8 M400.5,480.20 h4.8 M400.5,455.70 h8 M400.5,431.20 h4.8 M400.5,406.70 h4.8 M400.5,382.20 h4.8 M400.5,357.70 h4.8 M400.5,333.20 h8 M400.5,308.70 h4.8 M400.5,284.20 h4.8 M400.5,259.70 h4.8 M400.5,235.20 h4.8 M400.5,210.70 h8 M400.5,186.20 h4.8 M400.5,161.70 h4.8 M400.5,137.20 h4.8 M400.5,112.70 h4.8 M400.5,88.20 h8 M400.5,63.70 h4.8" stroke="#555555" stroke-opacity="0.62" stroke-width="1" fill="none"/>
<g font-family="Liberation Sans, sans-serif" font-size="23px" fill="#5a5a5a">
<text x="93.9" y="542.3" text-anchor="middle"><tspan dy="1.8">−</tspan><tspan dy="-1.8" dx="1.8">20</tspan></text>
<text x="247.4" y="542.3" text-anchor="middle"><tspan dy="1.8">−</tspan><tspan dy="-1.8" dx="1.8">10</tspan></text>
<text x="554.4" y="542.3" text-anchor="middle">10</text>
<text x="707.9" y="542.3" text-anchor="middle">20</text>
<text x="392.5" y="464.9" text-anchor="end">1</text>
<text x="392.5" y="342.4" text-anchor="end">2</text>
<text x="392.5" y="219.9" text-anchor="end">3</text>
<text x="392.5" y="97.4" text-anchor="end">4</text>
<text x="382.4" y="22.8" font-size="23.2px" letter-spacing="0"><tspan font-style="italic">χ</tspan><tspan dx="-0.2">(</tspan><tspan font-style="italic" dx="0.6">r</tspan><tspan dx="1.0">)</tspan></text>
<text x="818.5" y="520.8" font-style="italic">r</text>
</g>
</svg>
</body></html>
